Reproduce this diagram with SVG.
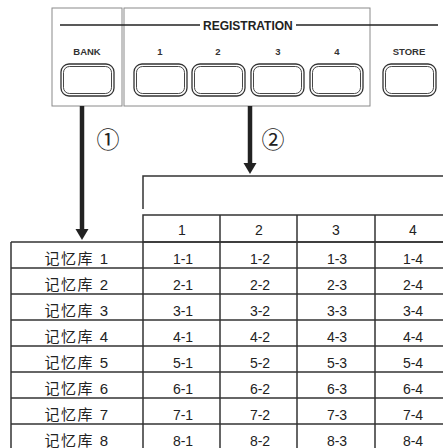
<svg xmlns="http://www.w3.org/2000/svg" width="443" height="448" viewBox="0 0 443 448">
<style>
.panel{fill:none;stroke:#8a8a8a;stroke-width:1}
.btn{fill:#fff;stroke:#333;stroke-width:1.3}
.btni{fill:none;stroke:#333;stroke-width:0.9}
.lbl{font-family:"Liberation Sans",Arial,sans-serif;font-size:9.5px;font-weight:bold;fill:#333;text-anchor:middle}
.reg{font-family:"Liberation Sans",Arial,sans-serif;font-size:12px;font-weight:bold;fill:#222}
.grid{stroke:#333;stroke-width:1.5;fill:none}
.cell{font-family:"Liberation Sans",Arial,sans-serif;font-size:14px;fill:#222;text-anchor:middle}
.bank{font-family:"Liberation Sans","Noto Sans CJK SC",sans-serif;font-size:15px;letter-spacing:1.5px;fill:#222;text-anchor:middle}
.circ{font-family:"Noto Sans CJK SC",sans-serif;font-size:23px;fill:#222;text-anchor:middle}
.arrow{stroke:#222;stroke-width:4.5;fill:none}
</style>
<defs>
<g id="button">
<rect class="btn" x="0" y="0" width="53" height="32" rx="8"/>
<rect class="btni" x="2.5" y="2.5" width="48" height="27" rx="6"/>
</g>
</defs>
<g id="panel">
<rect class="panel" x="52" y="8" width="70" height="98"/>
<rect class="panel" x="124" y="8" width="246" height="98"/>
<line x1="60" y1="25" x2="200" y2="25" stroke="#222" stroke-width="1.5"/>
<line x1="296" y1="25" x2="438" y2="25" stroke="#222" stroke-width="1.5"/>
<text class="reg" x="203" y="29.5">REGISTRATION</text>
</g>
<g id="bank-button"><text class="lbl" x="87" y="55">BANK</text><use href="#button" x="61" y="64"/></g>
<g id="reg-button-1"><text class="lbl" x="160" y="55">1</text><use href="#button" x="134" y="64"/></g>
<g id="reg-button-2"><text class="lbl" x="218" y="55">2</text><use href="#button" x="192" y="64"/></g>
<g id="reg-button-3"><text class="lbl" x="278" y="55">3</text><use href="#button" x="251" y="64"/></g>
<g id="reg-button-4"><text class="lbl" x="337" y="55">4</text><use href="#button" x="310" y="64"/></g>
<g id="store-button"><text class="lbl" x="409" y="55">STORE</text><use href="#button" x="383" y="64"/></g>
<g id="connectors">
<line class="arrow" x1="82" y1="106" x2="82" y2="230"/>
<polygon points="75.5,229 88.5,229 82,240" fill="#222"/>
<line class="arrow" x1="250" y1="106" x2="250" y2="164"/>
<polygon points="243.5,163 256.5,163 250,174" fill="#222"/>
<text class="circ" x="108" y="148">①</text>
<text class="circ" x="273" y="148">②</text>
<polyline class="grid" points="143,209 143,176 443,176" stroke="#444"/>
</g>
<g id="table">
<rect class="grid" x="143" y="215" width="310" height="27"/>
<line class="grid" x1="143" y1="242" x2="443" y2="242" stroke-width="2.5"/>
<line class="grid" x1="220" y1="215" x2="220" y2="448"/>
<line class="grid" x1="297" y1="215" x2="297" y2="448"/>
<line class="grid" x1="375" y1="215" x2="375" y2="448"/>
<line class="grid" x1="143" y1="242" x2="143" y2="448" stroke-width="2.5"/>
<line class="grid" x1="11" y1="242" x2="11" y2="448"/>
<line class="grid" x1="11" y1="242" x2="143" y2="242"/>
<line class="grid" x1="11" y1="268" x2="443" y2="268"/>
<line class="grid" x1="11" y1="294" x2="443" y2="294"/>
<line class="grid" x1="11" y1="320" x2="443" y2="320"/>
<line class="grid" x1="11" y1="346" x2="443" y2="346"/>
<line class="grid" x1="11" y1="372" x2="443" y2="372"/>
<line class="grid" x1="11" y1="398" x2="443" y2="398"/>
<line class="grid" x1="11" y1="424" x2="443" y2="424"/>
<text class="cell" x="182" y="235">1</text>
<text class="cell" x="259" y="235">2</text>
<text class="cell" x="336" y="235">3</text>
<text class="cell" x="413" y="235">4</text>
<g id="row-1"><text class="bank" x="77" y="264">记忆库 1</text><text class="cell" x="183" y="264">1-1</text><text class="cell" x="260" y="264">1-2</text><text class="cell" x="337" y="264">1-3</text><text class="cell" x="413" y="264">1-4</text></g>
<g id="row-2"><text class="bank" x="77" y="290">记忆库 2</text><text class="cell" x="183" y="290">2-1</text><text class="cell" x="260" y="290">2-2</text><text class="cell" x="337" y="290">2-3</text><text class="cell" x="413" y="290">2-4</text></g>
<g id="row-3"><text class="bank" x="77" y="316">记忆库 3</text><text class="cell" x="183" y="316">3-1</text><text class="cell" x="260" y="316">3-2</text><text class="cell" x="337" y="316">3-3</text><text class="cell" x="413" y="316">3-4</text></g>
<g id="row-4"><text class="bank" x="77" y="342">记忆库 4</text><text class="cell" x="183" y="342">4-1</text><text class="cell" x="260" y="342">4-2</text><text class="cell" x="337" y="342">4-3</text><text class="cell" x="413" y="342">4-4</text></g>
<g id="row-5"><text class="bank" x="77" y="368">记忆库 5</text><text class="cell" x="183" y="368">5-1</text><text class="cell" x="260" y="368">5-2</text><text class="cell" x="337" y="368">5-3</text><text class="cell" x="413" y="368">5-4</text></g>
<g id="row-6"><text class="bank" x="77" y="394">记忆库 6</text><text class="cell" x="183" y="394">6-1</text><text class="cell" x="260" y="394">6-2</text><text class="cell" x="337" y="394">6-3</text><text class="cell" x="413" y="394">6-4</text></g>
<g id="row-7"><text class="bank" x="77" y="420">记忆库 7</text><text class="cell" x="183" y="420">7-1</text><text class="cell" x="260" y="420">7-2</text><text class="cell" x="337" y="420">7-3</text><text class="cell" x="413" y="420">7-4</text></g>
<g id="row-8"><text class="bank" x="77" y="446">记忆库 8</text><text class="cell" x="183" y="446">8-1</text><text class="cell" x="260" y="446">8-2</text><text class="cell" x="337" y="446">8-3</text><text class="cell" x="413" y="446">8-4</text></g>
</g>
</svg>
